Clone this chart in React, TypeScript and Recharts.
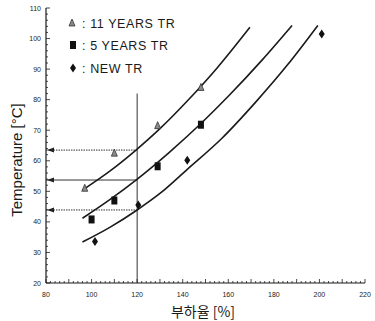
import React from 'react';
import {
  ComposedChart, Line, Scatter, XAxis, YAxis, ReferenceLine, ReferenceDot, Legend,
} from 'recharts';

// ---- data ----
const elevenYears = [
  { x: 97, y: 51 }, { x: 110, y: 62.5 }, { x: 129, y: 71.5 }, { x: 148, y: 84 },
];
const fiveYears = [
  { x: 100, y: 40.8 }, { x: 110, y: 47 }, { x: 129, y: 58.2 }, { x: 148, y: 71.8 },
];
const newTr = [
  { x: 101.5, y: 33.6 }, { x: 120.5, y: 45.5 }, { x: 142, y: 60.2 }, { x: 201, y: 101.5 },
];

const curveEleven = [
  { x: 96, y: 50.4 }, { x: 108, y: 56.6 }, { x: 119.5, y: 63.5 }, { x: 130, y: 70.5 },
  { x: 142.3, y: 79.8 }, { x: 155, y: 90.3 }, { x: 169.5, y: 103.7 },
];
const curveFive = [
  { x: 96, y: 41.2 }, { x: 108, y: 47.3 }, { x: 119.5, y: 53.7 }, { x: 134, y: 62.7 },
  { x: 148, y: 72.2 }, { x: 160, y: 81.1 }, { x: 175, y: 93.1 }, { x: 188, y: 104.3 },
];
const curveNew = [
  { x: 96, y: 33.4 }, { x: 108, y: 38.2 }, { x: 120, y: 43.9 }, { x: 130, y: 49.3 },
  { x: 142, y: 57.2 }, { x: 157, y: 67.2 }, { x: 172.5, y: 79.6 }, { x: 186, y: 91.4 },
  { x: 199.3, y: 104.3 },
];

const arrowLevels = [63.5, 53.7, 43.9];
const arrowDashed = [true, false, true];
const thresholdX = 120;
const thresholdTop = 82;

const xTicks: number[] = [];
for (let v = 80; v <= 220; v += 2) xTicks.push(v);
const yTicks: number[] = [];
for (let v = 20; v <= 110; v += 2) yTicks.push(v);

const legendLabels = [': 11 YEARS TR', ': 5 YEARS TR', ': NEW TR'];

const INK = '#1a1a1a';
const FONT = '"Liberation Sans", Arial, "Noto Sans CJK KR", sans-serif';

// ---- marker shapes ----
const triPts = (cx: number, cy: number) =>
  `${cx},${cy - 4} ${cx - 3},${cy + 3} ${cx + 3},${cy + 3}`;
const Tri = (p: any) => (
  <polygon points={triPts(p.cx, p.cy)} fill="#8a8a8a" stroke="#333" strokeWidth={0.8} />
);
const Sq = (p: any) => (
  <rect x={p.cx - 3} y={p.cy - 4} width={6} height={8} fill="#111" />
);
const diaPts = (cx: number, cy: number) =>
  `${cx},${cy - 4.5} ${cx + 3},${cy} ${cx},${cy + 4.5} ${cx - 3},${cy}`;
const Dia = (p: any) => <polygon points={diaPts(p.cx, p.cy)} fill="#111" />;

const Arrow = (p: any) => (
  <polygon
    points={`${p.cx + 1},${p.cy} ${p.cx + 8},${p.cy - 2.5} ${p.cx + 8},${p.cy + 2.5}`}
    fill="#222"
  />
);

const XTick = (props: any) => {
  const { x, y, payload } = props;
  const v = payload.value;
  const len = v % 10 === 0 ? 4 : 2;
  return (
    <g>
      <line x1={x} x2={x} y1={y} y2={y - len} stroke={INK} strokeWidth={0.8} />
      {v % 20 === 0 && (
        <text x={x} y={y + 14} textAnchor="middle" fontSize={7} fill={INK} fontFamily={FONT}>
          {v}
        </text>
      )}
    </g>
  );
};

const YTick = (props: any) => {
  const { x, y, payload } = props;
  const v = payload.value;
  const len = v % 10 === 0 ? 4 : 2;
  return (
    <g>
      <line x1={x} x2={x + len} y1={y} y2={y} stroke={INK} strokeWidth={0.8} />
      {v % 10 === 0 && (
        <text x={x - 5} y={y + 2.5} textAnchor="end" fontSize={7} fill={INK} fontFamily={FONT}>
          {v}
        </text>
      )}
    </g>
  );
};

const YLabel = () => {
  const cx = 16;
  const cy = 160;
  return (
    <text
      x={cx}
      y={cy}
      transform={`rotate(-90 ${cx} ${cy})`}
      textAnchor="middle"
      dominantBaseline="central"
      fontSize={15}
      fill={INK}
      fontFamily={FONT}
    >
      Temperature [°C]
    </text>
  );
};

const XLabel = () => (
  <text x={203} y={317} textAnchor="middle" fontSize={14} fill={INK}
    fontFamily={'"Noto Sans CJK KR", "Liberation Sans", sans-serif'}>
    부하율 [%]
  </text>
);

const LegendBox = () => {
  const rows = [23, 45, 68];
  const shapes = [
    <polygon key="a" points={triPts(72, rows[0])} fill="#8a8a8a" stroke="#333" strokeWidth={0.8} />,
    <rect key="b" x={70} y={rows[1] - 4} width={6} height={8} fill="#111" />,
    <polygon key="c" points={diaPts(73, rows[2])} fill="#111" />,
  ];
  return (
    <svg width={220} height={85} style={{ display: 'block' }}>
      {shapes}
      {legendLabels.map((t, i) => (
        <text key={t} x={82} y={rows[i] + 4.5} fontSize={12.5} letterSpacing={0.6}
          fill={INK} fontFamily={FONT}>
          {t}
        </text>
      ))}
    </svg>
  );
};

export default function App() {
  return (
    <div style={{ position: 'absolute', left: 0, top: 0, width: 375, height: 321, background: '#fff' }}>
      <ComposedChart
        width={375}
        height={321}
        margin={{ top: 8, right: 10, left: 6, bottom: 8 }}
        style={{ fontFamily: FONT }}
      >
        <XAxis
          type="number"
          dataKey="x"
          domain={[80, 220]}
          ticks={xTicks}
          interval={0}
          tickSize={0}
          tickMargin={0}
          tick={<XTick />}
          stroke={INK}
          strokeWidth={1.2}
          allowDataOverflow
          label={<XLabel />}
        />
        <YAxis
          type="number"
          dataKey="y"
          domain={[20, 110]}
          ticks={yTicks}
          interval={0}
          tickSize={0}
          tickMargin={0}
          tick={<YTick />}
          width={40}
          stroke={INK}
          strokeWidth={1.2}
          allowDataOverflow
          label={<YLabel />}
        />
        <Legend
          layout="vertical"
          align="center"
          verticalAlign="middle"
          wrapperStyle={{ left: 0, top: 0, width: 220, height: 85 }}
          content={() => <LegendBox />}
        />
        <ReferenceLine
          segment={[{ x: thresholdX, y: 20 }, { x: thresholdX, y: thresholdTop }]}
          stroke="#333"
          strokeWidth={1}
        />
        {arrowLevels.map((lv, i) => (
          <ReferenceLine
            key={`h${i}`}
            segment={[{ x: 80, y: lv }, { x: thresholdX, y: lv }]}
            stroke="#333"
            strokeWidth={1}
            strokeDasharray={arrowDashed[i] ? '1.5 1' : undefined}
          />
        ))}
        {arrowLevels.map((lv, i) => (
          <ReferenceDot key={`a${i}`} x={80} y={lv} r={3} shape={<Arrow />} />
        ))}
        <Line data={curveEleven} dataKey="y" type="monotone" stroke={INK} strokeWidth={1.6}
          dot={false} activeDot={false} isAnimationActive={false} />
        <Line data={curveFive} dataKey="y" type="monotone" stroke={INK} strokeWidth={1.6}
          dot={false} activeDot={false} isAnimationActive={false} />
        <Line data={curveNew} dataKey="y" type="monotone" stroke={INK} strokeWidth={1.6}
          dot={false} activeDot={false} isAnimationActive={false} />
        <Scatter data={elevenYears} shape={<Tri />} isAnimationActive={false} />
        <Scatter data={fiveYears} shape={<Sq />} isAnimationActive={false} />
        <Scatter data={newTr} shape={<Dia />} isAnimationActive={false} />
      </ComposedChart>
    </div>
  );
}
